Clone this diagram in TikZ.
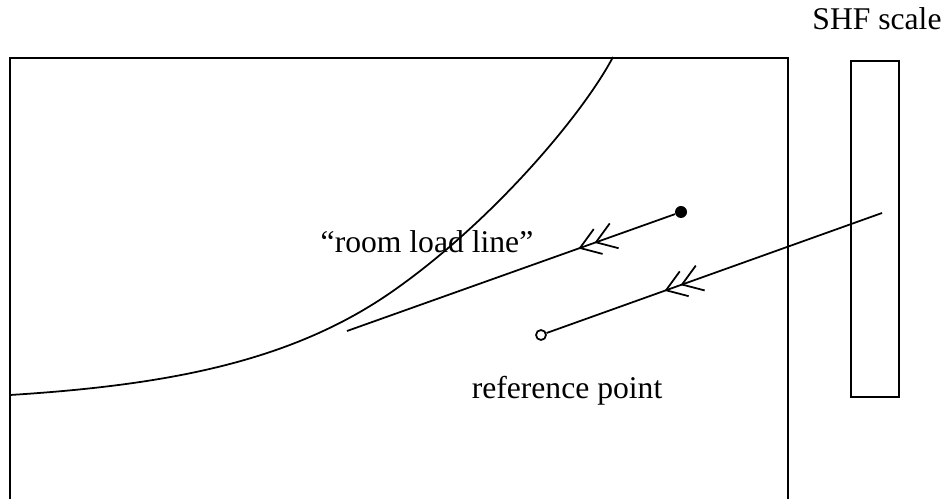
\documentclass[tikz,border=0pt]{standalone}
\usepackage{fontspec}
\setmainfont{Liberation Serif}
\usetikzlibrary{arrows.meta, decorations.markings}

\begin{document}
\begin{tikzpicture}[
  x={(0.02cm,0)}, y={(0,-0.02cm)},
  ln/.style={line width=1pt},
  lbl/.style={font=\fontsize{18}{22}\selectfont,inner sep=0pt,anchor=base},
  full/.style={circle,fill=black,inner sep=0pt,minimum size=0.24cm},
  open/.style={circle,draw,line width=1pt,fill=white,inner sep=0pt,minimum size=0.2cm},
  chev/.style 2 args={postaction={decorate},decoration={markings,
    mark=at position #1 with {\arrow[ln]{Straight Barb[length=11pt,width=15pt]}},
    mark=at position #2 with {\arrow[ln]{Straight Barb[length=11pt,width=15pt]}}}}
]
  \useasboundingbox (0,0) rectangle (947,499);

  % chart frame, open at the bottom
  \draw[ln] (10,499) -- (10,58) -- (788,58) -- (788,499);

  % saturation-type curve
  \draw[ln] (10,395) .. controls (170,385) and (293,361) .. (393,291)
    .. controls (493,221) and (583,114) .. (613,57);

  % SHF scale bar
  \node[draw,ln,minimum width=0.96cm,minimum height=6.72cm,inner sep=0pt] (shfbar) at (875,229) {};
  \node[lbl] (shflbl) at (877,30) {SHF scale};

  \node[full] (state) at (681,212) {};
  \node[open] (refpt) at (541,335) {};
  \coordinate (rllend) at (347,331);
  \coordinate (shfpt) at (882,213);

  \draw[ln,chev={2.05cm}{1.71cm}] (state) -- (rllend);
  \draw[ln,chev={4.62cm}{4.28cm}] (shfpt) -- (refpt);

  \node[lbl] (rlllbl) at (427,253) {“room load line”};
  \node[lbl] (reflbl) at (567,399) {reference point};
\end{tikzpicture}
\end{document}
